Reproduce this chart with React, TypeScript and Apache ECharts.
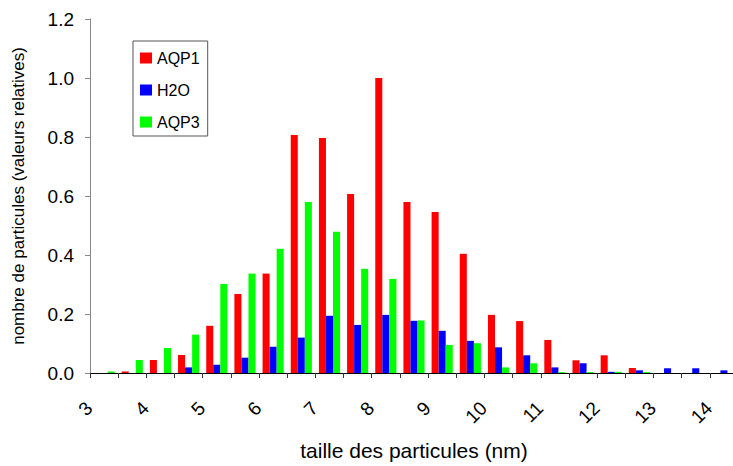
import React, { useEffect, useRef } from "react";
import * as echarts from "echarts";

const categories = ["3","3.5","4","4.5","5","5.5","6","6.5","7","7.5","8","8.5","9","9.5","10","10.5","11","11.5","12","12.5","13","13.5","14"];
const aqp1 = [0, 0.005, 0.044, 0.061, 0.16, 0.268, 0.337, 0.807, 0.797, 0.607, 1.0, 0.58, 0.546, 0.404, 0.197, 0.176, 0.112, 0.043, 0.06, 0.017, 0, 0, 0];
const h2o = [0, 0, 0, 0.019, 0.028, 0.052, 0.089, 0.12, 0.194, 0.163, 0.197, 0.177, 0.143, 0.109, 0.087, 0.06, 0.019, 0.033, 0.004, 0.009, 0.016, 0.016, 0.009];
const aqp3 = [0.005, 0.044, 0.085, 0.13, 0.302, 0.337, 0.421, 0.58, 0.479, 0.353, 0.319, 0.178, 0.095, 0.101, 0.019, 0.033, 0.003, 0.003, 0.004, 0.003, 0, 0, 0];
const yTicks = [0, 0.2, 0.4, 0.6, 0.8, 1.0, 1.2];

const FONT = "'Liberation Sans', Arial, sans-serif";
const NBSP4 = "\u00A0\u00A0\u00A0\u00A0";

export default function App() {
  const ref = useRef<HTMLDivElement>(null);
  useEffect(() => {
    if (!ref.current) return;
    const chart = echarts.init(ref.current, undefined, { renderer: "svg" });
    chart.setOption({
      animation: false,
      backgroundColor: "#ffffff",
      textStyle: { fontFamily: FONT },
      grid: { left: 90, right: -5, top: 19, bottom: 93, containLabel: false, outerBoundsMode: "none" },
      legend: {
        orient: "vertical",
        left: 133,
        top: 41,
        padding: [9, 8, 6, 7],
        itemWidth: 12,
        itemHeight: 11,
        itemGap: 16,
        icon: "rect",
        borderColor: "#555",
        borderWidth: 1,
        borderRadius: 0,
        textStyle: { fontSize: 16, color: "#000", fontFamily: FONT },
        data: ["AQP1", "H2O", "AQP3"],
      },
      xAxis: {
        type: "category",
        data: categories,
        boundaryGap: true,
        name: "taille des particules (nm)",
        nameLocation: "middle",
        nameGap: 67,
        nameTextStyle: { fontSize: 21, color: "#000", fontFamily: FONT },
        axisLine: { lineStyle: { color: "#000", width: 1 } },
        axisTick: { show: true, interval: 0, length: 5, lineStyle: { color: "#333" } },
        axisLabel: {
          interval: 1,
          rotate: 45,
          margin: 17,
          fontSize: 19,
          color: "#000",
          fontFamily: FONT,
          formatter: (v: string) => v + NBSP4,
        },
        splitLine: { show: false },
      },
      yAxis: {
        type: "value",
        min: yTicks[0],
        max: yTicks[yTicks.length - 1],
        interval: 0.2,
        name: "nombre de particules (valeurs relatives)",
        nameLocation: "middle",
        nameGap: 63,
        nameTextStyle: { fontSize: 17, color: "#000", fontFamily: FONT },
        axisLine: { show: true, lineStyle: { color: "#888", width: 1 } },
        axisTick: { show: true, length: 5, lineStyle: { color: "#888" } },
        axisLabel: {
          margin: 16,
          fontSize: 19,
          color: "#000",
          fontFamily: FONT,
          formatter: (v: number) => v.toFixed(1),
        },
        splitLine: { show: false },
      },
      series: [
        { name: "AQP1", type: "bar", data: aqp1, itemStyle: { color: "#ff0000" }, barGap: "0%", barCategoryGap: "25%" },
        { name: "H2O", type: "bar", data: h2o, itemStyle: { color: "#0000ff" }, barGap: "0%", barCategoryGap: "25%" },
        { name: "AQP3", type: "bar", data: aqp3, itemStyle: { color: "#00ff00" }, barGap: "0%", barCategoryGap: "25%" },
      ],
    });
    return () => chart.dispose();
  }, []);
  return (
    <div
      ref={ref}
      style={{ position: "fixed", left: 0, top: 0, width: 733, height: 466, background: "#fff" }}
    />
  );
}
